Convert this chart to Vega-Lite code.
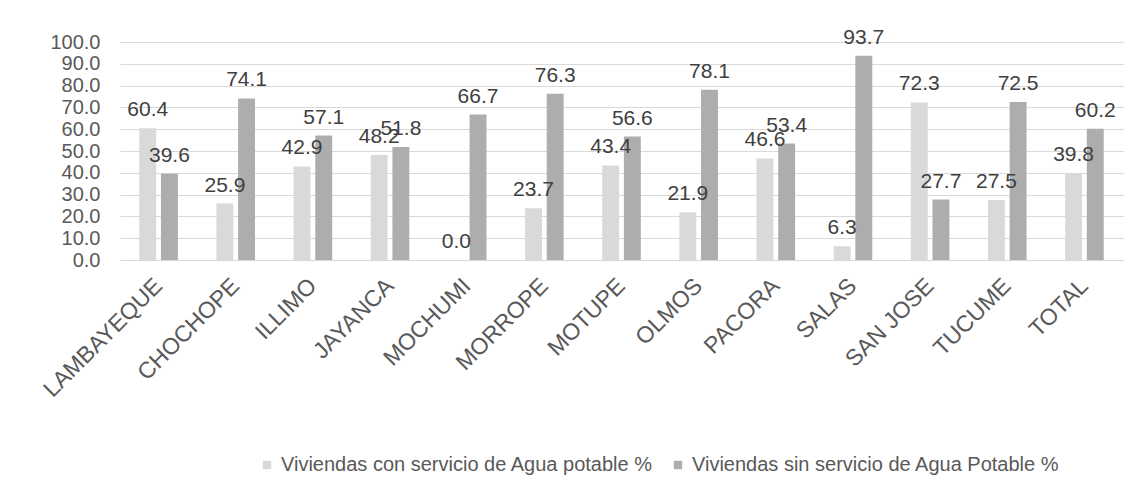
{
  "$schema": "https://vega.github.io/schema/vega-lite/v6.json",
  "width": 1003,
  "height": 218,
  "autosize": {"type": "none"},
  "padding": {"left": 120, "top": 42, "right": 17, "bottom": 244},
  "background": "white",
  "config": {
    "font": "Liberation Sans",
    "view": {"stroke": null},
    "axis": {"labelColor": "#595959", "labelFont": "Liberation Sans"}
  },
  "data": {
    "values": [
      {"distrito": "LAMBAYEQUE", "serie": "Viviendas con servicio de Agua potable %", "valor": 60.4},
      {"distrito": "LAMBAYEQUE", "serie": "Viviendas sin servicio de Agua Potable %", "valor": 39.6},
      {"distrito": "CHOCHOPE", "serie": "Viviendas con servicio de Agua potable %", "valor": 25.9},
      {"distrito": "CHOCHOPE", "serie": "Viviendas sin servicio de Agua Potable %", "valor": 74.1},
      {"distrito": "ILLIMO", "serie": "Viviendas con servicio de Agua potable %", "valor": 42.9},
      {"distrito": "ILLIMO", "serie": "Viviendas sin servicio de Agua Potable %", "valor": 57.1},
      {"distrito": "JAYANCA", "serie": "Viviendas con servicio de Agua potable %", "valor": 48.2},
      {"distrito": "JAYANCA", "serie": "Viviendas sin servicio de Agua Potable %", "valor": 51.8},
      {"distrito": "MOCHUMI", "serie": "Viviendas con servicio de Agua potable %", "valor": 0.0},
      {"distrito": "MOCHUMI", "serie": "Viviendas sin servicio de Agua Potable %", "valor": 66.7},
      {"distrito": "MORROPE", "serie": "Viviendas con servicio de Agua potable %", "valor": 23.7},
      {"distrito": "MORROPE", "serie": "Viviendas sin servicio de Agua Potable %", "valor": 76.3},
      {"distrito": "MOTUPE", "serie": "Viviendas con servicio de Agua potable %", "valor": 43.4},
      {"distrito": "MOTUPE", "serie": "Viviendas sin servicio de Agua Potable %", "valor": 56.6},
      {"distrito": "OLMOS", "serie": "Viviendas con servicio de Agua potable %", "valor": 21.9},
      {"distrito": "OLMOS", "serie": "Viviendas sin servicio de Agua Potable %", "valor": 78.1},
      {"distrito": "PACORA", "serie": "Viviendas con servicio de Agua potable %", "valor": 46.6},
      {"distrito": "PACORA", "serie": "Viviendas sin servicio de Agua Potable %", "valor": 53.4},
      {"distrito": "SALAS", "serie": "Viviendas con servicio de Agua potable %", "valor": 6.3},
      {"distrito": "SALAS", "serie": "Viviendas sin servicio de Agua Potable %", "valor": 93.7},
      {"distrito": "SAN JOSE", "serie": "Viviendas con servicio de Agua potable %", "valor": 72.3},
      {"distrito": "SAN JOSE", "serie": "Viviendas sin servicio de Agua Potable %", "valor": 27.7},
      {"distrito": "TUCUME", "serie": "Viviendas con servicio de Agua potable %", "valor": 27.5},
      {"distrito": "TUCUME", "serie": "Viviendas sin servicio de Agua Potable %", "valor": 72.5},
      {"distrito": "TOTAL", "serie": "Viviendas con servicio de Agua potable %", "valor": 39.8},
      {"distrito": "TOTAL", "serie": "Viviendas sin servicio de Agua Potable %", "valor": 60.2}
    ]
  },
  "encoding": {
    "x": {
      "field": "distrito", "type": "nominal", "sort": null,
      "scale": {"paddingInner": 0.5, "paddingOuter": 0.25},
      "axis": {
        "title": null, "labelAngle": -45, "labelAlign": "right", "labelBaseline": "middle",
        "labelFontSize": 23, "labelPadding": 22, "ticks": false, "labelLimit": 0,
        "domainColor": "#d9d9d9", "labelColor": "#595959"
      }
    },
    "xOffset": {"field": "serie", "type": "nominal", "scale": {"paddingInner": 0.22}},
    "y": {
      "field": "valor", "type": "quantitative",
      "scale": {"domain": [0, 100], "nice": false},
      "axis": {
        "title": null, "values": [0, 10, 20, 30, 40, 50, 60, 70, 80, 90, 100],
        "format": ".1f", "labelFontSize": 20, "labelPadding": 20, "ticks": false, "domain": false,
        "labelOverlap": false,
        "gridColor": "#d9d9d9", "labelColor": "#595959", "labelBaseline": "middle"
      }
    }
  },
  "layer": [
    {
      "mark": {"type": "bar"},
      "encoding": {
        "color": {
          "field": "serie", "type": "nominal",
          "scale": {"range": ["#d9d9d9", "#adadad"]},
          "legend": {
            "title": null, "orient": "none", "direction": "horizontal",
            "legendX": 137, "legendY": 413,
            "symbolType": "square", "symbolSize": 70, "symbolStrokeWidth": 0,
            "labelFontSize": 20, "labelColor": "#595959", "columnPadding": 14, "labelOffset": 4,
            "labelLimit": 0
          }
        }
      }
    },
    {
      "mark": {"type": "text", "dy": -18, "fontSize": 21, "color": "#404040"},
      "encoding": {
        "text": {"field": "valor", "type": "quantitative", "format": ".1f"}
      }
    }
  ]
}
